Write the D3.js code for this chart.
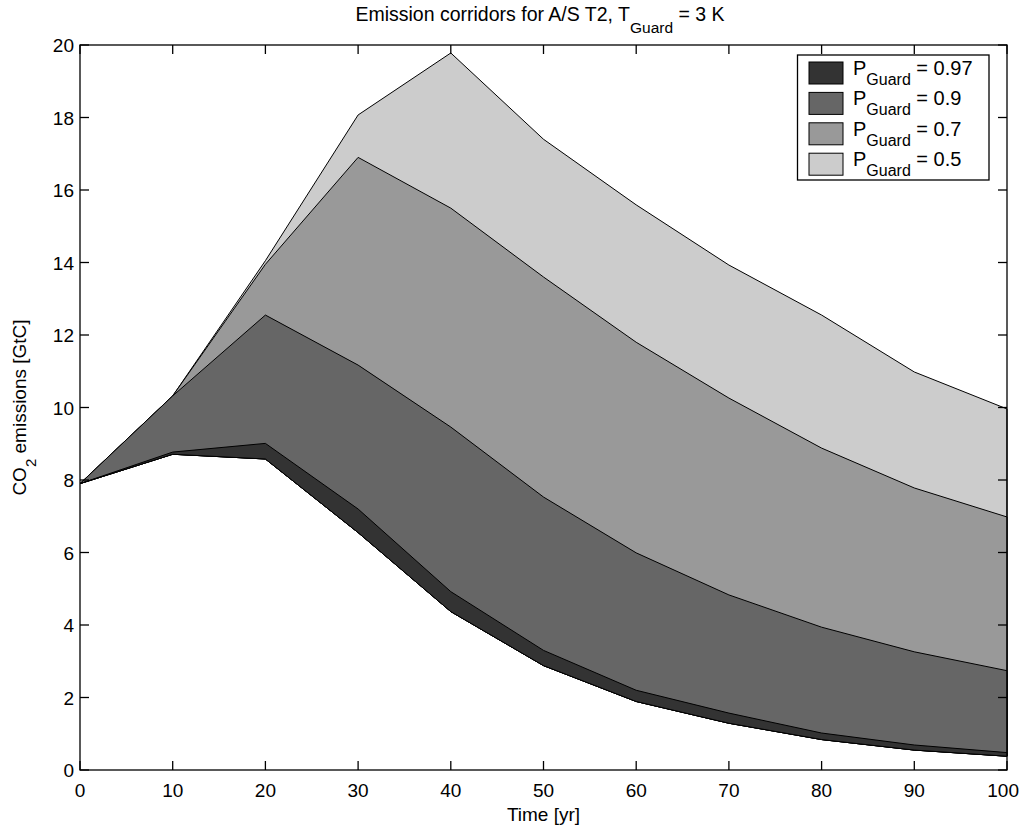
<!DOCTYPE html>
<html>
<head>
<meta charset="utf-8">
<script src="https://cdn.jsdelivr.net/npm/d3@7"></script>
<style>
  body { margin: 0; background: #fff; }
  svg { display: block; font-family: "Liberation Sans", Arial, sans-serif; }
</style>
</head>
<body>
<svg id="chart" width="1020" height="830"></svg>
<script>
// Time axis (years) at which corridor bounds are given
const years = [0, 10, 20, 30, 40, 50, 60, 70, 80, 90, 100];

// Common lower bound of the emission corridors [GtC]
const lowerBound = [7.9, 8.71, 8.58, 6.55, 4.37, 2.88, 1.89, 1.29, 0.84, 0.55, 0.38];

// Upper bounds per guardrail probability [GtC]
const upper50 = [7.9, 10.32, 14.05, 18.07, 19.78, 17.4, 15.59, 13.93, 12.55, 10.98, 9.96];
const upper70 = [7.9, 10.32, 13.95, 16.9, 15.5, 13.6, 11.8, 10.26, 8.88, 7.78, 6.98];
const upper90 = [7.9, 10.32, 12.55, 11.17, 9.46, 7.53, 5.99, 4.83, 3.94, 3.26, 2.74];
const upper97 = [7.9, 8.77, 9.01, 7.2, 4.92, 3.3, 2.2, 1.57, 1.02, 0.69, 0.48];

const probLabels = ["0.97", "0.9", "0.7", "0.5"];
const fills = ["#333333", "#666666", "#999999", "#cccccc"];

const xTicks = [0, 10, 20, 30, 40, 50, 60, 70, 80, 90, 100];
const yTicks = [0, 2, 4, 6, 8, 10, 12, 14, 16, 18, 20];

const W = 1020;
const svg = d3.select("#chart");
const plotLeft = 80, plotRight = 1007, plotTop = 45, plotBottom = 770;

const x = d3.scaleLinear().domain([0, 100]).range([plotLeft, plotRight]);
const y = d3.scaleLinear().domain([0, 20]).range([plotBottom, plotTop]);

// Corridors, widest first so narrower ones stack on top
const corridors = [
  { label: probLabels[3], fill: fills[3], up: upper50 },
  { label: probLabels[2], fill: fills[2], up: upper70 },
  { label: probLabels[1], fill: fills[1], up: upper90 },
  { label: probLabels[0], fill: fills[0], up: upper97 }
];

const area = d3.area()
  .x(d => x(d.t))
  .y0(d => y(d.lo))
  .y1(d => y(d.hi));

corridors.forEach(c => {
  const pts = years.map((t, i) => ({ t, lo: lowerBound[i], hi: c.up[i] }));
  svg.append("path")
    .datum(pts)
    .attr("d", area)
    .attr("fill", c.fill)
    .attr("stroke", "#000")
    .attr("stroke-width", 1)
    .attr("stroke-linejoin", "round");
});

// Axes box with inward ticks
const tickLen = 9;
const axisG = svg.append("g").attr("stroke", "#000").attr("stroke-width", 1.3);
axisG.append("rect")
  .attr("x", plotLeft).attr("y", plotTop)
  .attr("width", plotRight - plotLeft).attr("height", plotBottom - plotTop)
  .attr("fill", "none");

xTicks.forEach(v => {
  axisG.append("line").attr("x1", x(v)).attr("x2", x(v)).attr("y1", plotBottom).attr("y2", plotBottom - tickLen);
  axisG.append("line").attr("x1", x(v)).attr("x2", x(v)).attr("y1", plotTop).attr("y2", plotTop + tickLen);
});
yTicks.forEach(v => {
  axisG.append("line").attr("x1", plotLeft).attr("x2", plotLeft + tickLen).attr("y1", y(v)).attr("y2", y(v));
  axisG.append("line").attr("x1", plotRight).attr("x2", plotRight - tickLen).attr("y1", y(v)).attr("y2", y(v));
});

const tickFont = 19;
const xLabels = svg.append("g").selectAll("text").data(xTicks).join("text")
  .attr("x", d => x(d)).attr("y", plotBottom + 27)
  .attr("text-anchor", "middle")
  .attr("font-size", tickFont)
  .text(d => d);
// keep the last label inside the canvas
xLabels.each(function (d) {
  const half = this.getComputedTextLength() / 2;
  if (x(d) + half > W - 1) d3.select(this).attr("x", W - 1 - half);
});

svg.append("g").selectAll("text").data(yTicks).join("text")
  .attr("x", plotLeft - 6).attr("y", d => y(d) + 7)
  .attr("text-anchor", "end")
  .attr("font-size", tickFont)
  .text(d => d);

// Axis labels
svg.append("text")
  .attr("x", (plotLeft + plotRight) / 2).attr("y", 821)
  .attr("text-anchor", "middle")
  .attr("font-size", 19)
  .text("Time [yr]");

const yl = svg.append("text")
  .attr("transform", `translate(26, ${(plotTop + plotBottom) / 2}) rotate(-90)`)
  .attr("text-anchor", "middle")
  .attr("font-size", 19);
yl.append("tspan").text("CO");
yl.append("tspan").attr("font-size", 15).attr("dy", 10).text("2");
yl.append("tspan").attr("dy", -10).text(" emissions [GtC]");

// Title
const title = svg.append("text")
  .attr("x", 540).attr("y", 21)
  .attr("text-anchor", "middle")
  .attr("font-size", 19.5);
title.append("tspan").text("Emission corridors for A/S T2, T");
title.append("tspan").attr("font-size", 15.5).attr("dy", 12).text("Guard");
title.append("tspan").attr("dy", -12).text(" = 3 K");

// Legend
const lg = svg.append("g");
lg.append("rect")
  .attr("x", 797.5).attr("y", 55).attr("width", 191.5).attr("height", 125)
  .attr("fill", "#fff").attr("stroke", "#000").attr("stroke-width", 1.3);

probLabels.forEach((p, i) => {
  const rowY = 62 + i * 30.4;
  lg.append("rect")
    .attr("x", 809).attr("y", rowY)
    .attr("width", 34).attr("height", 22)
    .attr("fill", fills[i]).attr("stroke", "#000").attr("stroke-width", 1);
  const t = lg.append("text")
    .attr("x", 853).attr("y", rowY + 13)
    .attr("font-size", 20);
  t.append("tspan").text("P");
  t.append("tspan").attr("font-size", 16).attr("dy", 10).text("Guard");
  t.append("tspan").attr("dy", -10).text(" = " + p);
});
</script>
</body>
</html>
